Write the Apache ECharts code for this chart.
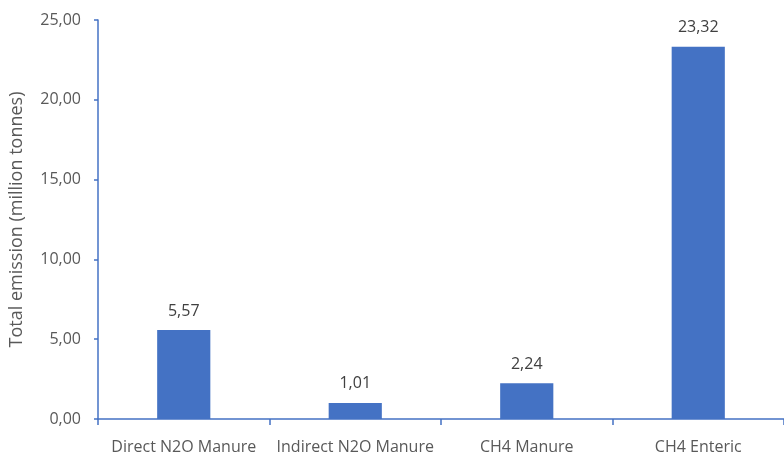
<!DOCTYPE html>
<html><head><meta charset="utf-8">
<script src="https://cdn.jsdelivr.net/npm/echarts@6/dist/echarts.min.js"></script>
<style>html,body{margin:0;padding:0;background:#fff}#c{width:784px;height:456px}</style>
</head><body><div id="c"></div>
<script>
const categories = ['Direct N2O Manure', 'Indirect N2O Manure', 'CH4 Manure', 'CH4 Enteric'];
const values = [5.57, 1.01, 2.24, 23.32];
const yTicks = [0, 5, 10, 15, 20, 25];
const yName = 'Total emission (million tonnes)';
const fmt = v => Number(v).toFixed(2).replace('.', ',');
const font = "'Open Sans', 'Noto Sans', sans-serif";
const chart = echarts.init(document.getElementById('c'), null, {renderer: 'canvas'});
chart.setOption({
  animation: false,
  grid: {left: 98, right: -7, top: 20, bottom: 37, containLabel: false},
  xAxis: {
    type: 'category', data: categories,
    axisLine: {lineStyle: {color: '#4472C4', width: 1.5}},
    axisTick: {show: true, alignWithLabel: false, length: 6, lineStyle: {color: '#4472C4', width: 1.5}},
    axisLabel: {color: '#595959', fontSize: 16, fontFamily: font, margin: 20, interval: 0}
  },
  yAxis: {
    type: 'value', min: yTicks[0], max: yTicks[yTicks.length - 1], interval: 5,
    name: yName, nameLocation: 'middle', nameGap: 72, nameRotate: 90,
    nameTextStyle: {color: '#595959', fontSize: 18, fontFamily: font},
    axisLine: {show: true, lineStyle: {color: '#4472C4', width: 1.5}},
    axisTick: {show: true, length: 4, lineStyle: {color: '#4472C4', width: 1.5}},
    axisLabel: {color: '#595959', fontSize: 16, fontFamily: font, margin: 17, formatter: v => fmt(v)},
    splitLine: {show: false}
  },
  series: [{
    type: 'bar', data: values, barWidth: '31%',
    itemStyle: {color: '#4472C4'},
    label: {show: true, position: 'top', distance: 11, color: '#404040', fontSize: 16, fontFamily: font, formatter: p => fmt(p.value)}
  }]
});
</script></body></html>
